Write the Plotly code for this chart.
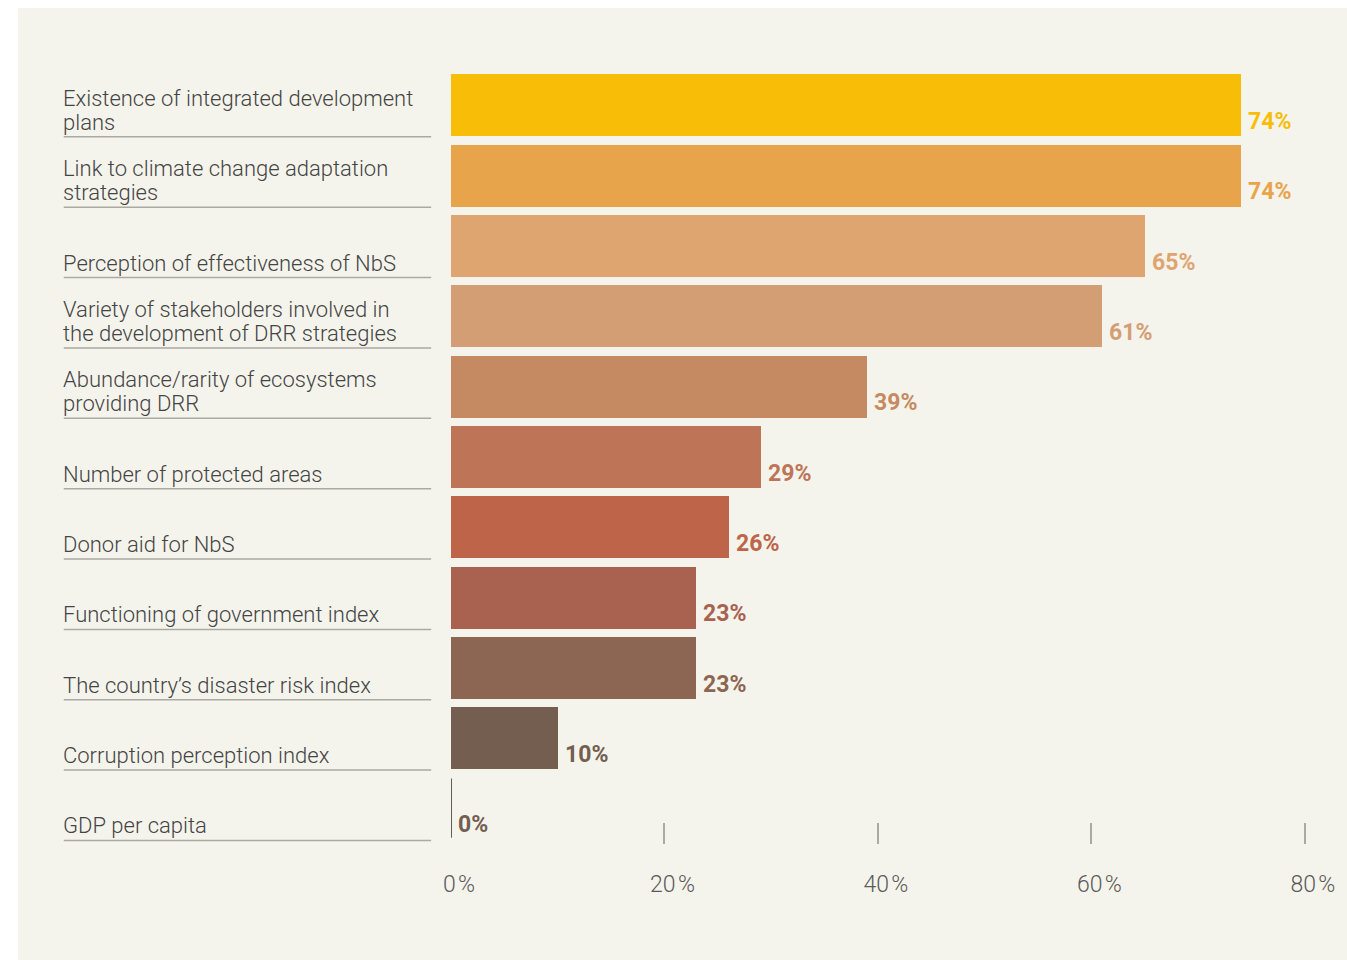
import plotly.graph_objects as go

categories = [
    "Existence of integrated development<br>plans",
    "Link to climate change adaptation<br>strategies",
    "Perception of effectiveness of NbS",
    "Variety of stakeholders involved in<br>the development of DRR strategies",
    "Abundance/rarity of ecosystems<br>providing DRR",
    "Number of protected areas",
    "Donor aid for NbS",
    "Functioning of government index",
    "The country\u2019s disaster risk index",
    "Corruption perception index",
    "GDP per capita",
]
values = [74, 74, 65, 61, 39, 29, 26, 23, 23, 10, 0]
colors = ["#F8BD07", "#E8A44A", "#DFA570", "#D49E74", "#C68A62", "#BD7457",
          "#BD6449", "#A8624F", "#8D6553", "#735E4F", "#3E3631"]
label_colors = ["#F8BD07", "#E8A44A", "#DFA570", "#D49E74", "#C68A62", "#BD7457",
                "#BD6449", "#A8624F", "#8D6553", "#735E4F", "#735E4F"]
tick_vals = [0, 20, 40, 60, 80]
tick_text = ["0\u200a%", "20\u200a%", "40\u200a%", "60\u200a%", "80\u200a%"]

pos = list(range(len(categories)))
bar_w = 0.88

fig = go.Figure()
fig.add_trace(go.Bar(
    x=values, y=pos, orientation="h",
    width=bar_w,
    marker=dict(color=colors, line_width=0),
    hoverinfo="skip",
))

# zero-valued bars are not drawn, so mark them with a thin line
for i, v in enumerate(values):
    if v == 0:
        fig.add_trace(go.Scatter(x=[v, v], y=[i - bar_w / 2 + 0.01, i + bar_w / 2 - 0.03],
                                 mode="lines", line=dict(color=colors[i], width=1.6),
                                 hoverinfo="skip"))

# cream panel behind everything
fig.add_shape(type="rect", xref="paper", yref="paper",
              x0=-0.506, x1=1.1, y0=-0.2, y1=1.0801,
              fillcolor="#F5F4EC", line_width=0, layer="below")

for i, (cat, v) in enumerate(zip(categories, values)):
    fig.add_shape(type="line", xref="paper", yref="y",
                  x0=-0.4524, x1=-0.0232, y0=i + 0.45, y1=i + 0.45,
                  line=dict(color="#ABA9A2", width=1.5))
    lines = cat.split("<br>")
    for k, line in enumerate(reversed(lines)):
        fig.add_annotation(text=line, xref="paper", yref="y",
                           x=-0.4524, y=i + 0.45, xanchor="left", yanchor="bottom",
                           align="left", showarrow=False, xshift=-3, yshift=24 * k,
                           font=dict(family="Roboto", size=22, weight=300, color="#444444"))
    fig.add_annotation(text=f"{v}%", xref="x", yref="y",
                       x=v, y=i + 0.45, xanchor="left", yanchor="bottom",
                       showarrow=False, xshift=5, yshift=0,
                       font=dict(family="Roboto", size=23, weight=700, color=label_colors[i]))

fig.update_xaxes(range=[0, 80.2], tickvals=tick_vals, ticktext=tick_text,
                 ticks="inside", ticklen=21, tickwidth=1.5, tickcolor="#ABA9A2",
                 showgrid=False, zeroline=False, showline=False,
                 ticklabelstandoff=24, ticklabelshift=8,
                 tickfont=dict(family="Roboto", size=23, weight=300, color="#5A5A5A"))
fig.update_yaxes(range=[10.5, -0.5], showticklabels=False, showgrid=False,
                 zeroline=False, showline=False, ticks="")

fig.update_layout(
    width=1347, height=960,
    margin=dict(l=451, r=34, t=70, b=116),
    paper_bgcolor="white", plot_bgcolor="rgba(0,0,0,0)",
    showlegend=False, bargap=0,
)

fig.write_html("out.html", config={"displayModeBar": False},
               post_script="document.body.style.margin='0';document.body.style.overflow='hidden';")
